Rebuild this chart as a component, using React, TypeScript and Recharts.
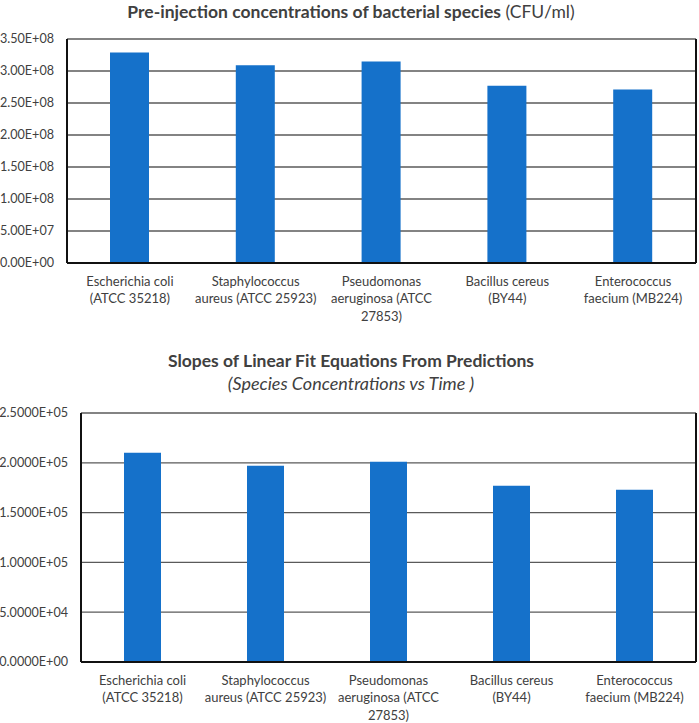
import React from 'react';
import { BarChart, Bar, XAxis, YAxis, CartesianGrid } from 'recharts';

// species shown on both charts (one label line per array entry)
const categoryLines = [
  ['Escherichia coli', '(ATCC 35218)'],
  ['Staphylococcus', 'aureus (ATCC 25923)'],
  ['Pseudomonas', 'aeruginosa (ATCC', '27853)'],
  ['Bacillus cereus', '(BY44)'],
  ['Enterococcus', 'faecium (MB224)'],
];
const categories = categoryLines.map((l) => l.join(' '));

// pre-injection concentrations (CFU/ml)
const concentrations = [3.29e8, 3.09e8, 3.15e8, 2.77e8, 2.71e8];
const concentrationTicks = [0, 5e7, 1e8, 1.5e8, 2e8, 2.5e8, 3e8, 3.5e8];

// slopes of linear fit equations
const slopes = [2.1e5, 1.97e5, 2.01e5, 1.77e5, 1.73e5];
const slopeTicks = [0, 5e4, 1e5, 1.5e5, 2e5, 2.5e5];

const FONT = 'Lato, "Open Sans", sans-serif';
const TEXT = '#404040';
const BLUE = '#1571CA';
const GRID = '#5a5a5a';
const FRAME = '#111';

const sci = (digits: number) => (v: number) => {
  const [m, e] = v.toExponential(digits).split('e');
  const sign = e[0] === '-' ? '-' : '+';
  const exp = e.replace(/[+-]/, '').padStart(2, '0');
  return `${m}E${sign}${exp}`;
};

const linesByName: Record<string, string[]> = {};
categories.forEach((c, i) => (linesByName[c] = categoryLines[i]));

const CategoryTick = (props: any) => {
  const { x, y, payload } = props;
  const lines = linesByName[payload.value] || [payload.value];
  return (
    <text x={x} y={y} textAnchor="middle" fill={TEXT} fontSize={13} fontFamily={FONT}>
      {lines.map((l, i) => (
        <tspan key={i} x={x} dy={i === 0 ? 22.8 : 17.5}>
          {l}
        </tspan>
      ))}
    </text>
  );
};

const concData = categories.map((name, i) => ({ name, value: concentrations[i] }));
const slopeData = categories.map((name, i) => ({ name, value: slopes[i] }));

const titleStyle: React.CSSProperties = {
  position: 'absolute',
  left: 0,
  width: 702,
  textAlign: 'center',
  fontFamily: FONT,
  color: TEXT,
  fontSize: 17.5,
  lineHeight: '22px',
  whiteSpace: 'nowrap',
};

type PanelProps = {
  data: { name: string; value: number }[];
  ticks: number[];
  digits: number;
  height: number;
  top: number;
  yWidth: number;
  barSize: number;
};

const Panel = ({ data, ticks, digits, height, top, yWidth, barSize }: PanelProps) => (
  <BarChart
    width={699}
    height={height}
    data={data}
    margin={{ top, right: 0, bottom: 0, left: 0 }}
  >
    <CartesianGrid vertical={false} stroke={GRID} strokeWidth={1.3} />
    <XAxis
      dataKey="name"
      height={61}
      interval={0}
      tickLine={false}
      tickSize={0}
      tickMargin={0}
      axisLine={{ stroke: FRAME, strokeWidth: 2 }}
      tick={<CategoryTick />}
    />
    <XAxis
      xAxisId="top"
      dataKey="name"
      orientation="top"
      height={0}
      tick={false}
      tickLine={false}
      axisLine={{ stroke: FRAME, strokeWidth: 2 }}
    />
    <YAxis
      width={yWidth}
      domain={[ticks[0], ticks[ticks.length - 1]]}
      ticks={ticks}
      interval={0}
      tickFormatter={sci(digits)}
      tickLine={false}
      tickSize={6}
      tickMargin={7}
      axisLine={{ stroke: FRAME, strokeWidth: 2 }}
      tick={{ fill: TEXT, fontSize: 12.6, fontFamily: FONT }}
    />
    <YAxis
      yAxisId="right"
      orientation="right"
      width={3}
      domain={[0, 1]}
      tick={false}
      tickLine={false}
      axisLine={{ stroke: FRAME, strokeWidth: 2 }}
    />
    <Bar dataKey="value" fill={BLUE} barSize={barSize} isAnimationActive={false} />
  </BarChart>
);

export default function App() {
  return (
    <div style={{ position: 'absolute', left: 0, top: 0, width: 699, height: 723, background: '#fff' }}>
      <div style={{ ...titleStyle, top: 1 }}>
        <b>Pre-injection concentrations of bacterial species</b> (CFU/ml)
      </div>
      <div style={{ position: 'absolute', left: 0, top: 0 }}>
        <Panel
          data={concData}
          ticks={concentrationTicks}
          digits={2}
          height={324}
          top={39}
          yWidth={67}
          barSize={39}
        />
      </div>
      <div style={{ ...titleStyle, top: 350 }}>
        <b>Slopes of Linear Fit Equations From Predictions</b>
      </div>
      <div style={{ ...titleStyle, top: 372, fontStyle: 'italic', fontSize: 18 }}>
        (Species Concentrations vs Time )
      </div>
      <div style={{ position: 'absolute', left: 0, top: 370 }}>
        <Panel
          data={slopeData}
          ticks={slopeTicks}
          digits={4}
          height={353}
          top={43}
          yWidth={81}
          barSize={37}
        />
      </div>
    </div>
  );
}
